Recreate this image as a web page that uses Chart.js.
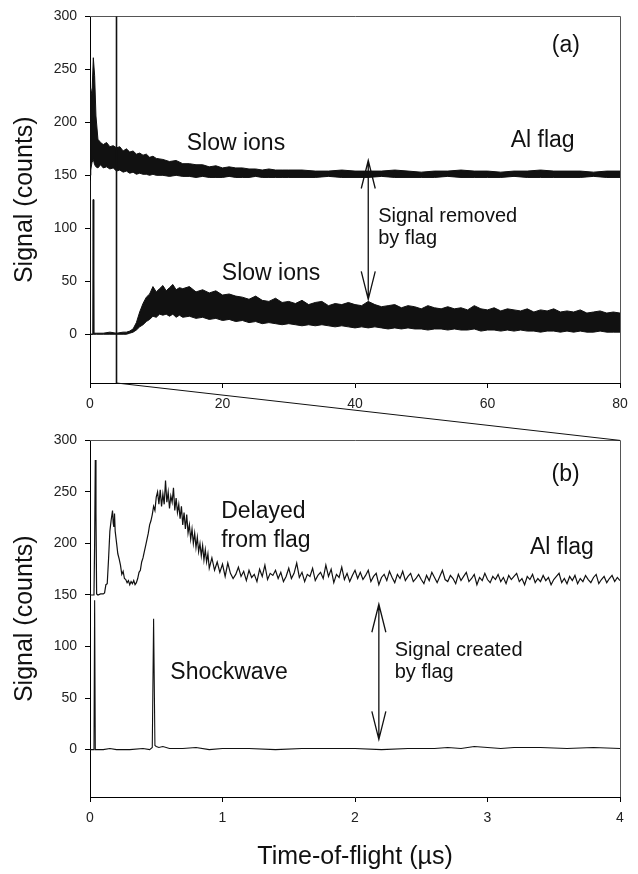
<!DOCTYPE html>
<html>
<head>
<meta charset="utf-8">
<script src="https://cdn.jsdelivr.net/npm/chart.js@4.4.0/dist/chart.umd.min.js"></script>
<style>
body { margin: 0; background: #fff; }
#wrap { position: relative; width: 638px; height: 874px; }
canvas { position: absolute; left: 0; }
</style>
</head>
<body>
<div id="wrap">
<canvas id="chartA" width="638" height="424" style="top:0px"></canvas>
<canvas id="chartB" width="638" height="450" style="top:424px"></canvas>
<canvas id="overlay" width="638" height="874" style="top:0px"></canvas>
</div>
<script>
// ---- panel (a): 0-80 us, plotted as noise bands (upper / lower edge) ----
var aXTicks = [0, 20, 40, 60, 80];
var yTicks = [0, 50, 100, 150, 200, 250, 300];
var zoomEdge = 4;   // panel (b) shows 0..4 us

var aFlagTime = [0, 0.1, 0.3, 0.5, 0.7, 0.9, 1.2, 1.6, 2, 2.5, 3, 3.5, 4, 4.5, 5, 5.5, 6, 6.5, 7, 7.5, 8, 8.5, 9, 9.5, 10,
  11, 12, 13, 14, 15, 16, 17, 18, 19, 20, 21, 22, 23, 24, 25, 26, 27, 28, 29, 30,
  32, 34, 36, 38, 40, 42, 44, 46, 48, 50, 52, 54, 56, 58, 60, 62, 64, 66, 68, 70, 72, 74, 76, 78, 80];
var aFlagHigh = [150, 232, 226, 261, 244, 206, 184, 181, 179, 181, 177, 178, 176, 177, 173, 175, 172, 173, 170, 171, 169, 170, 167, 168, 166,
  165, 163, 164, 161, 161, 160, 160, 158, 159, 157, 158, 157, 157, 156, 156, 155, 156, 155, 155, 155,
  155, 154, 154, 155, 154, 154, 154, 155, 154, 153, 154, 154, 155, 154, 154, 153, 154, 154, 155, 154, 154, 154, 153, 154, 154];
var aFlagLow = [150, 155, 162, 165, 160, 158, 157, 160, 157, 158, 156, 157, 154, 155, 153, 154, 152, 153, 151, 152, 151, 151, 150, 151, 150,
  150, 149, 150, 149, 149, 148, 149, 148, 148, 148, 149, 148, 148, 148, 149, 148, 148, 148, 148, 148,
  148, 148, 149, 148, 148, 148, 149, 148, 148, 148, 148, 149, 148, 148, 148, 148, 149, 148, 148, 148, 148, 148, 149, 148, 148];

var aIonTime = [0, 0.03, 0.04, 0.05, 0.45, 0.5, 0.55, 1, 2, 3, 4, 5,
  5.5, 6, 6.5, 7, 7.5, 8, 8.5, 9, 9.5, 10, 10.5, 11, 11.5, 12, 12.5, 13, 13.5,
  14, 15, 16, 17, 18, 19, 20, 21, 22, 23,
  24, 25, 26, 27, 28, 29, 30, 31, 32, 33,
  34, 35, 36, 37, 38, 39, 40, 41, 42, 43,
  44, 45, 46, 47, 48, 49, 50, 51, 52, 53,
  54, 55, 56, 57, 58, 59, 60, 61, 62, 63,
  64, 65, 66, 67, 68, 69, 70, 71, 72, 73,
  74, 75, 76, 77, 78, 79, 80];
var aIonHigh = [0, 0, 145, 0, 0, 127, 1, 1, 1, 2, 1, 2,
  2, 3, 5, 11, 21, 29, 35, 38, 45, 40, 43, 46, 41, 44, 47, 42, 44,
  43, 45, 40, 42, 39, 41, 37, 38, 36, 35,
  33, 36, 32, 31, 34, 30, 31, 29, 32, 28,
  30, 31, 27, 29, 28, 30, 28, 27, 31, 28,
  26, 27, 28, 25, 27, 26, 24, 27, 25, 24,
  26, 24, 25, 23, 27, 24, 23, 25, 22, 24,
  23, 22, 24, 21, 23, 22, 24, 21, 22, 21,
  23, 20, 21, 22, 20, 21, 20];
var aIonLow = [0, 0, 145, 0, 0, 127, 0, 0, 0, 0, 0, 0,
  0, 1, 2, 4, 7, 9, 12, 14, 17, 16, 19, 18, 19, 17, 19, 16, 18,
  16, 17, 15, 16, 14, 15, 13, 14, 12, 13,
  11, 12, 10, 11, 10, 9, 10, 9, 8, 9,
  8, 9, 8, 7, 8, 7, 6, 7, 6, 7,
  6, 5, 6, 5, 6, 5, 5, 4, 5, 5,
  4, 5, 4, 4, 5, 3, 4, 4, 3, 4,
  3, 4, 3, 3, 2, 3, 3, 2, 3, 2,
  3, 2, 2, 3, 2, 2, 2];

// ---- panel (b): 0-4 us ----
var bXTicks = [0, 1, 2, 3, 4];

var bFlagTime = [0, 0.03, 0.035, 0.04, 0.045, 0.05, 0.06, 0.08, 0.10, 0.11, 0.12, 0.13, 0.14, 0.15, 0.16, 0.17, 0.175, 0.18, 0.185, 0.19,
  0.20, 0.21, 0.22, 0.23, 0.24, 0.25, 0.26, 0.27, 0.28, 0.29, 0.30, 0.31, 0.32, 0.33, 0.34, 0.35, 0.36, 0.37, 0.38, 0.39,
  0.40, 0.41, 0.42, 0.43, 0.44, 0.45, 0.46, 0.47, 0.48, 0.49, 0.50, 0.51, 0.52, 0.53, 0.54, 0.55, 0.56, 0.57, 0.58, 0.59,
  0.60, 0.61, 0.62, 0.63, 0.64, 0.65, 0.66, 0.67, 0.68, 0.69, 0.70, 0.71, 0.72, 0.73, 0.74, 0.75, 0.76, 0.77, 0.78, 0.79,
  0.80, 0.81, 0.82, 0.83, 0.84, 0.85, 0.86, 0.87, 0.88, 0.89, 0.90, 0.92, 0.94, 0.96, 0.98, 1.00,
  1.02, 1.04, 1.06, 1.08, 1.10, 1.12, 1.14, 1.16, 1.18, 1.20,
  1.22, 1.24, 1.26, 1.28, 1.30, 1.32, 1.34, 1.36, 1.38, 1.40,
  1.42, 1.44, 1.46, 1.48, 1.50, 1.52, 1.54, 1.56, 1.58, 1.60,
  1.62, 1.64, 1.66, 1.68, 1.70, 1.72, 1.74, 1.76, 1.78, 1.80,
  1.82, 1.84, 1.86, 1.88, 1.90, 1.92, 1.94, 1.96, 1.98, 2.00,
  2.02, 2.04, 2.06, 2.08, 2.10, 2.12, 2.14, 2.16, 2.18, 2.20,
  2.22, 2.24, 2.26, 2.28, 2.30, 2.32, 2.34, 2.36, 2.38, 2.40,
  2.42, 2.44, 2.46, 2.48, 2.50, 2.52, 2.54, 2.56, 2.58, 2.60,
  2.62, 2.64, 2.66, 2.68, 2.70, 2.72, 2.74, 2.76, 2.78, 2.80,
  2.82, 2.84, 2.86, 2.88, 2.90, 2.92, 2.94, 2.96, 2.98, 3.00,
  3.02, 3.04, 3.06, 3.08, 3.10, 3.12, 3.14, 3.16, 3.18, 3.20,
  3.22, 3.24, 3.26, 3.28, 3.30, 3.32, 3.34, 3.36, 3.38, 3.40,
  3.42, 3.44, 3.46, 3.48, 3.50, 3.52, 3.54, 3.56, 3.58, 3.60,
  3.62, 3.64, 3.66, 3.68, 3.70, 3.72, 3.74, 3.76, 3.78, 3.80,
  3.82, 3.84, 3.86, 3.88, 3.90, 3.92, 3.94, 3.96, 3.98, 4.00];
var bFlagSignal = [150, 150, 200, 281, 230, 151, 150, 151, 151, 152, 160, 161, 185, 212, 223, 232, 220, 216, 229, 212,
  201, 190, 185, 179, 170, 173, 166, 165, 162, 164, 160, 163, 161, 164, 160, 162, 166, 172, 174, 182,
  186, 192, 198, 204, 210, 218, 222, 228, 236, 232, 245, 250, 238, 252, 236, 248, 238, 261, 240, 250,
  234, 246, 240, 254, 232, 244, 230, 238, 224, 236, 218, 230, 214, 228, 210, 218, 204, 214, 200, 210,
  196, 206, 192, 200, 188, 198, 184, 194, 182, 190, 176, 186, 174, 182, 172, 180,
  168, 181, 171, 166, 170, 177, 168, 173, 164, 174,
  167, 170, 163, 175, 168, 179, 165, 171, 169, 174,
  166, 172, 163, 168, 176, 166, 171, 181, 167, 172,
  163, 170, 168, 176, 164, 169, 172, 166, 179, 168,
  175, 162, 170, 167, 177, 165, 171, 163, 169, 174,
  166, 172, 165, 169, 174, 163, 168, 171, 160, 167,
  170, 164, 173, 167, 162, 170, 166, 173, 164, 168,
  171, 163, 166, 170, 165, 161, 169, 164, 172, 167,
  162, 168, 174, 165, 163, 169, 166, 161, 170, 164,
  168, 172, 163, 166, 170, 160, 167, 164, 171, 165,
  162, 168, 165, 170, 163, 167, 161, 169, 165, 168,
  171, 163, 166, 160, 168, 165, 170, 162, 166, 163,
  169, 164, 167, 160, 165, 168, 171, 162, 166, 161,
  168, 164, 169, 161, 166, 163, 169, 165, 162, 167,
  170, 161, 165, 168, 162, 166, 169, 163, 167, 164];

var bShockTime = [0, 0.03, 0.035, 0.04, 0.1, 0.15, 0.2, 0.3, 0.4, 0.45, 0.47, 0.48, 0.49, 0.5, 0.52, 0.55,
  0.6, 0.7, 0.8, 0.9, 1.0, 1.2, 1.4, 1.6, 1.8, 2.0, 2.2, 2.4, 2.6, 2.7, 2.8, 2.9, 3.0, 3.1, 3.2, 3.4, 3.6, 3.8, 4.0];
var bShockSignal = [0, 0, 145, 0, 0, 1, 0, 0, 1, 0, 2, 127, 4, 3, 2, 3,
  1, 1, 2, 0, 1, 1, 0, 1, 1, 1, 0, 1, 1, 2, 1, 3, 2, 1, 2, 2, 1, 2, 1];

var FONT = "'Liberation Sans', Arial, Helvetica, sans-serif";
var INK = '#111';

function pts(xs, ys) {
  return xs.map(function (x, i) { return { x: x, y: ys[i] }; });
}

function trace(xs, ys, fill, width) {
  return {
    data: pts(xs, ys),
    borderColor: INK,
    backgroundColor: INK,
    borderWidth: width || 1,
    pointRadius: 0,
    tension: 0,
    fill: fill || false
  };
}

// labels, arrow, frame and zoom marker drawn on top through the scales
function notesPlugin(notes, arrow, showZoom) {
  return {
    id: 'notes',
    afterDatasetsDraw: function (chart) {
      var ctx = chart.ctx, xs = chart.scales.x, ys = chart.scales.y, ca = chart.chartArea;
      ctx.save();
      ctx.strokeStyle = '#555';
      ctx.lineWidth = 1;
      ctx.beginPath();
      ctx.moveTo(Math.round(ca.left), Math.round(ca.top) + 0.5);
      ctx.lineTo(Math.round(ca.right) + 0.5, Math.round(ca.top) + 0.5);
      ctx.lineTo(Math.round(ca.right) + 0.5, Math.round(ca.bottom));
      ctx.stroke();

      if (showZoom) {
        var zx = xs.getPixelForValue(zoomEdge);
        ctx.strokeStyle = INK;
        ctx.lineWidth = 1.6;
        ctx.beginPath();
        ctx.moveTo(zx, ca.top);
        ctx.lineTo(zx, ca.bottom);
        ctx.stroke();
      }

      ctx.fillStyle = INK;
      ctx.textAlign = 'left';
      notes.forEach(function (n) {
        ctx.font = n.size + 'px ' + FONT;
        ctx.textBaseline = n.baseline || 'alphabetic';
        ctx.fillText(n.text, xs.getPixelForValue(n.x), ys.getPixelForValue(n.y));
      });

      var ax = xs.getPixelForValue(arrow.x);
      var y1 = ys.getPixelForValue(arrow.top), y2 = ys.getPixelForValue(arrow.bottom);
      ctx.strokeStyle = INK;
      ctx.lineWidth = 1.3;
      ctx.beginPath();
      ctx.moveTo(ax, y1); ctx.lineTo(ax, y2);
      ctx.moveTo(ax - 7, y1 + 28); ctx.lineTo(ax, y1); ctx.lineTo(ax + 7, y1 + 28);
      ctx.moveTo(ax - 7, y2 - 28); ctx.lineTo(ax, y2); ctx.lineTo(ax + 7, y2 - 28);
      ctx.stroke();
      ctx.restore();
    }
  };
}

function options(xMax, xTicks, xHeight, xTitle, pad) {
  return {
    responsive: false,
    animation: false,
    layout: { padding: pad },
    plugins: { legend: { display: false }, tooltip: { enabled: false } },
    scales: {
      x: {
        type: 'linear', min: 0, max: xMax,
        afterBuildTicks: function (s) { s.ticks = xTicks.map(function (v) { return { value: v }; }); },
        afterFit: function (s) { s.height = xHeight; },
        ticks: { font: { size: 14, family: FONT }, color: '#222', padding: 8, maxRotation: 0, autoSkip: false },
        grid: { drawOnChartArea: false, tickLength: 5, color: '#000' },
        border: { color: '#000', width: 1 },
        title: xTitle ? { display: true, text: xTitle, font: { size: 25, family: FONT }, color: INK, padding: { top: 0, bottom: 0 } } : { display: false }
      },
      y: {
        min: -46, max: 300,
        afterBuildTicks: function (s) { s.ticks = yTicks.map(function (v) { return { value: v }; }); },
        afterFit: function (s) { s.width = 90; },
        ticks: { font: { size: 14, family: FONT }, color: '#222', padding: 8 },
        grid: { drawOnChartArea: false, tickLength: 5, color: '#000' },
        border: { color: '#000', width: 1 },
        title: { display: true, text: 'Signal (counts)', font: { size: 25, family: FONT }, color: INK, padding: { top: 10, bottom: 0 } }
      }
    }
  };
}

var aNotes = [
  { text: '(a)', x: 69.7, y: 272, size: 23, baseline: 'middle' },
  { text: 'Slow ions', x: 14.6, y: 174, size: 23 },
  { text: 'Al flag', x: 63.5, y: 176.6, size: 23 },
  { text: 'Slow ions', x: 19.9, y: 51, size: 23 },
  { text: 'Signal removed', x: 43.5, y: 106, size: 20 },
  { text: 'by flag', x: 43.5, y: 85, size: 20 }
];
var bNotes = [
  { text: '(b)', x: 3.483, y: 266.8, size: 23, baseline: 'middle' },
  { text: 'Delayed', x: 0.99, y: 224.6, size: 23 },
  { text: 'from flag', x: 0.99, y: 197, size: 23 },
  { text: 'Al flag', x: 3.32, y: 189.7, size: 23 },
  { text: 'Shockwave', x: 0.606, y: 68.2, size: 23 },
  { text: 'Signal created', x: 2.30, y: 91, size: 20 },
  { text: 'by flag', x: 2.30, y: 69.8, size: 20 }
];

var chartA = new Chart(document.getElementById('chartA'), {
  type: 'line',
  data: {
    datasets: [
      trace(aFlagTime, aFlagLow),
      trace(aFlagTime, aFlagHigh, '-1'),
      trace(aIonTime, aIonLow),
      trace(aIonTime, aIonHigh, '-1')
    ]
  },
  options: options(80, aXTicks, 41, null, { left: 0, right: 18, top: 13, bottom: 0 }),
  plugins: [notesPlugin(aNotes, { x: 42, top: 164, bottom: 33 }, true)]
});

var chartB = new Chart(document.getElementById('chartB'), {
  type: 'line',
  data: {
    datasets: [
      trace(bFlagTime, bFlagSignal, false, 1.2),
      trace(bShockTime, bShockSignal, false, 1.1)
    ]
  },
  options: options(4, bXTicks, 75, 'Time-of-flight (\u00b5s)', { left: 0, right: 18, top: 3, bottom: 2 }),
  plugins: [notesPlugin(bNotes, { x: 2.18, top: 141, bottom: 10 }, false)]
});

// zoom connector from panel (a) at 4 us down to the top-right corner of panel (b)
var ov = document.getElementById('overlay').getContext('2d');
var offB = document.getElementById('chartB').offsetTop;
ov.strokeStyle = INK;
ov.lineWidth = 1;
ov.beginPath();
ov.moveTo(chartA.scales.x.getPixelForValue(zoomEdge), chartA.chartArea.bottom);
ov.lineTo(chartB.scales.x.getPixelForValue(zoomEdge), chartB.chartArea.top + offB);
ov.stroke();
</script>
</body>
</html>
